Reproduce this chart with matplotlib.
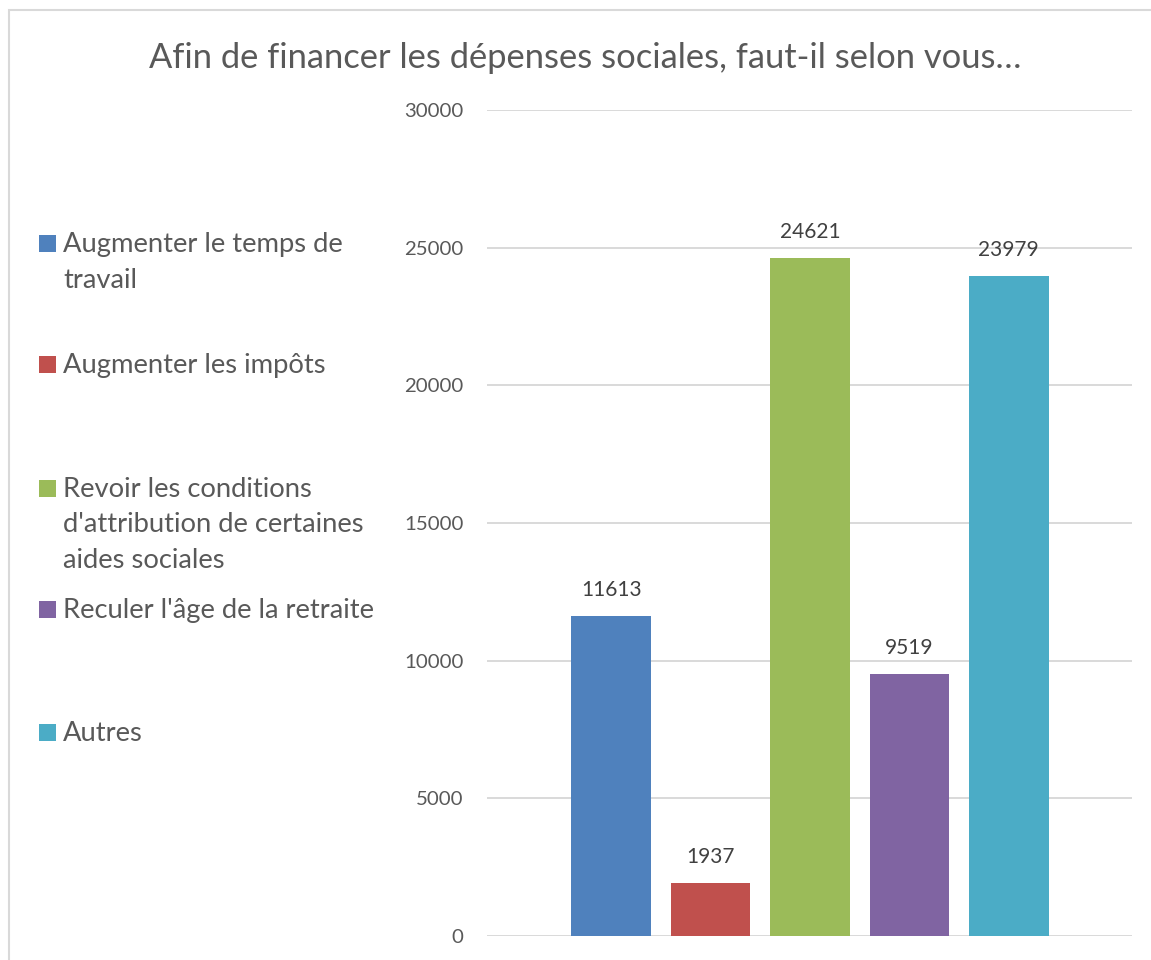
import matplotlib
matplotlib.use("Agg")
import matplotlib.pyplot as plt
from matplotlib.patches import Rectangle

categories = ["Augmenter le temps de\ntravail",
              "Augmenter les impôts",
              "Revoir les conditions\nd'attribution de certaines\naides sociales",
              "Reculer l'âge de la retraite",
              "Autres"]
values = [11613, 1937, 24621, 9519, 23979]
colors = ["#4F81BD", "#C0504D", "#9BBB59", "#8064A2", "#4BACC6"]
yticks = [0, 5000, 10000, 15000, 20000, 25000, 30000]
title = "Afin de financer les dépenses sociales, faut-il selon vous…"

plt.rcParams['font.family'] = ['Lato', 'DejaVu Sans']
W, H = 1151, 960
fig = plt.figure(figsize=(W/100, H/100), dpi=100)

ax = fig.add_axes([487/W, (H-936)/H, (1132-487)/W, (936-110)/H])
xs = list(range(len(values)))
bars = ax.bar(xs, values, width=0.8, color=colors, zorder=3)
ax.set_xlim(-1.25, 5.24)
ax.set_ylim(0, 30000)
ax.set_yticks(yticks)
ax.set_yticklabels([str(t) for t in yticks])
ax.grid(axis='y', color='#D9D9D9', linewidth=1.4, zorder=0)
for s in ax.spines.values():
    s.set_visible(False)
ax.set_xticks([])
ax.tick_params(axis='y', length=0, pad=17, labelsize=14.7, labelcolor='#595959')

for b, v in zip(bars, values):
    ax.annotate(str(v), (b.get_x() + b.get_width()/2, v), xytext=(0, 14.4),
                textcoords='offset points', ha='center', va='baseline',
                fontsize=15, color='#404040')

fig.text(585/W, 1-58/H, title, ha='center', va='center', fontsize=24.8, color='#595959')

# legend drawn manually
baselines = [252, 373, 497, 618, 741]
line_gap = 35.5
for lab, c, yb in zip(categories, colors, baselines):
    fig.add_artist(Rectangle((39/W, 1-yb/H), 17/W, 17/H, transform=fig.transFigure,
                             facecolor=c, edgecolor='none'))
    for i, line in enumerate(lab.split("\n")):
        fig.text(63/W, 1-(yb + i*line_gap)/H, line, ha='left', va='baseline',
                 fontsize=19.7, color='#595959')

# chart border
fig.add_artist(Rectangle((9/W, -0.05), 1.2, 1.05 - 10/H, transform=fig.transFigure,
                         facecolor='none', edgecolor='#D9D9D9', linewidth=1.5, clip_on=False))

fig.savefig("out.png", dpi=100)
